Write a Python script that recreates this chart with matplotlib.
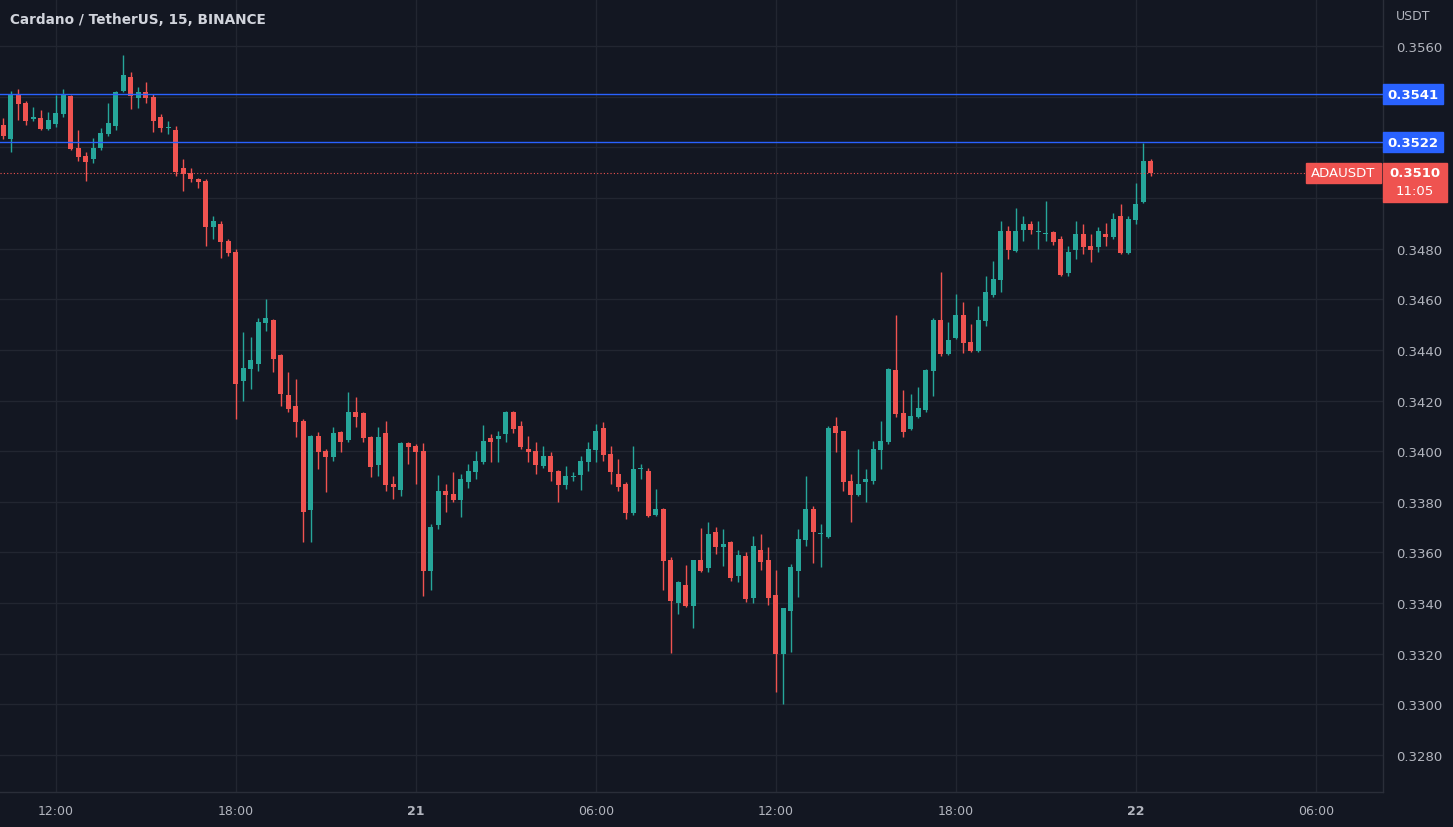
import matplotlib
matplotlib.use("Agg")
import matplotlib.pyplot as plt
from matplotlib.patches import Rectangle
from matplotlib.transforms import blended_transform_factory
import numpy as np

# ADAUSDT 15m candles, 20 Mar 10:15 -> 22 Mar 00:30
opens = [0.35290, 0.35233, 0.35408, 0.35375, 0.35314, 0.35316, 0.35272, 0.35292, 0.35331, 0.35401,
         0.35197, 0.35164, 0.35154, 0.35196, 0.35252, 0.35285, 0.35421, 0.35479, 0.35395, 0.35417,
         0.35400, 0.35318, 0.35275, 0.35270, 0.35117, 0.35098, 0.35077, 0.35068, 0.34884, 0.34897,
         0.34831, 0.34788, 0.34278, 0.34324, 0.34344, 0.34506, 0.34518, 0.34380, 0.34222, 0.34180,
         0.34120, 0.33767, 0.34061, 0.34002, 0.33976, 0.34074, 0.34045, 0.34153, 0.34150, 0.34058,
         0.33945, 0.34071, 0.33870, 0.33847, 0.34031, 0.34022, 0.34002, 0.33525, 0.33708, 0.33841,
         0.33831, 0.33808, 0.33879, 0.33919, 0.33956, 0.34054, 0.34048, 0.34068, 0.34153, 0.34100,
         0.34008, 0.34002, 0.33940, 0.33982, 0.33923, 0.33866, 0.33900, 0.33906, 0.33959, 0.34006,
         0.34090, 0.33989, 0.33910, 0.33870, 0.33756, 0.33930, 0.33923, 0.33748, 0.33771, 0.33571,
         0.33399, 0.33471, 0.33390, 0.33570, 0.33537, 0.33680, 0.33620, 0.33642, 0.33508, 0.33585,
         0.33419, 0.33611, 0.33570, 0.33432, 0.33201, 0.33370, 0.33528, 0.33650, 0.33771, 0.33672,
         0.33660, 0.34098, 0.34078, 0.33883, 0.33827, 0.33880, 0.33883, 0.34006, 0.34035, 0.34320,
         0.34151, 0.34087, 0.34134, 0.34164, 0.34318, 0.34519, 0.34384, 0.34446, 0.34538, 0.34430,
         0.34397, 0.34515, 0.34617, 0.34677, 0.34871, 0.34792, 0.34874, 0.34897, 0.34867, 0.34858,
         0.34867, 0.34838, 0.34703, 0.34796, 0.34858, 0.34811, 0.34805, 0.34858, 0.34845, 0.34927,
         0.34782, 0.34914, 0.34985, 0.35147]
highs = [0.35316, 0.35423, 0.35430, 0.35384, 0.35359, 0.35347, 0.35338, 0.35408, 0.35430, 0.35408,
         0.35268, 0.35180, 0.35237, 0.35276, 0.35374, 0.35423, 0.35564, 0.35496, 0.35439, 0.35459,
         0.35410, 0.35331, 0.35305, 0.35285, 0.35156, 0.35117, 0.35081, 0.35075, 0.34930, 0.34910,
         0.34838, 0.34798, 0.34469, 0.34450, 0.34528, 0.34601, 0.34522, 0.34384, 0.34311, 0.34285,
         0.34127, 0.34065, 0.34074, 0.34008, 0.34094, 0.34080, 0.34232, 0.34213, 0.34153, 0.34061,
         0.34094, 0.34120, 0.33903, 0.34037, 0.34037, 0.34028, 0.34031, 0.33712, 0.33906, 0.33870,
         0.33919, 0.33910, 0.33949, 0.34002, 0.34103, 0.34068, 0.34080, 0.34160, 0.34160, 0.34120,
         0.34061, 0.34035, 0.34022, 0.33998, 0.33927, 0.33942, 0.33919, 0.33980, 0.34035, 0.34107,
         0.34116, 0.34019, 0.33969, 0.33877, 0.34019, 0.33950, 0.33932, 0.33850, 0.33774, 0.33581,
         0.33488, 0.33550, 0.33572, 0.33695, 0.33721, 0.33699, 0.33692, 0.33646, 0.33611, 0.33600,
         0.33664, 0.33673, 0.33620, 0.33532, 0.33380, 0.33554, 0.33692, 0.33903, 0.33782, 0.33712,
         0.34098, 0.34134, 0.34080, 0.33910, 0.34008, 0.33930, 0.34041, 0.34120, 0.34330, 0.34538,
         0.34243, 0.34226, 0.34252, 0.34324, 0.34528, 0.34709, 0.34511, 0.34620, 0.34590, 0.34502,
         0.34572, 0.34690, 0.34752, 0.34910, 0.34890, 0.34959, 0.34930, 0.34910, 0.34910, 0.34989,
         0.34871, 0.34848, 0.34809, 0.34910, 0.34897, 0.34858, 0.34884, 0.34901, 0.34941, 0.34976,
         0.34927, 0.35059, 0.35217, 0.35156]
lows = [0.35233, 0.35180, 0.35308, 0.35288, 0.35305, 0.35268, 0.35268, 0.35281, 0.35318, 0.35189,
        0.35147, 0.35068, 0.35137, 0.35189, 0.35246, 0.35268, 0.35417, 0.35351, 0.35355, 0.35375,
        0.35259, 0.35259, 0.35252, 0.35088, 0.35029, 0.35062, 0.35038, 0.34811, 0.34838, 0.34765,
        0.34770, 0.34127, 0.34199, 0.34245, 0.34318, 0.34476, 0.34311, 0.34180, 0.34153, 0.34055,
        0.33640, 0.33640, 0.33929, 0.33837, 0.33962, 0.33998, 0.34035, 0.34094, 0.34035, 0.33897,
        0.33903, 0.33844, 0.33810, 0.33824, 0.33949, 0.33870, 0.33429, 0.33450, 0.33692, 0.33758,
        0.33798, 0.33739, 0.33853, 0.33890, 0.33949, 0.33959, 0.33959, 0.34037, 0.34072, 0.34008,
        0.33959, 0.33910, 0.33932, 0.33883, 0.33798, 0.33850, 0.33883, 0.33847, 0.33923, 0.33956,
        0.33962, 0.33870, 0.33844, 0.33732, 0.33748, 0.33890, 0.33739, 0.33743, 0.33453, 0.33203,
        0.33357, 0.33383, 0.33300, 0.33521, 0.33524, 0.33594, 0.33545, 0.33488, 0.33484, 0.33405,
        0.33400, 0.33532, 0.33392, 0.33050, 0.33001, 0.33208, 0.33423, 0.33626, 0.33560, 0.33544,
        0.33656, 0.33998, 0.33844, 0.33719, 0.33822, 0.33798, 0.33870, 0.33930, 0.34030, 0.34134,
        0.34055, 0.34085, 0.34130, 0.34153, 0.34219, 0.34377, 0.34380, 0.34443, 0.34388, 0.34393,
        0.34393, 0.34493, 0.34608, 0.34627, 0.34759, 0.34785, 0.34831, 0.34858, 0.34798, 0.34831,
        0.34814, 0.34693, 0.34693, 0.34759, 0.34779, 0.34746, 0.34785, 0.34811, 0.34838, 0.34779,
        0.34779, 0.34897, 0.34980, 0.35085]
closes = [0.35246, 0.35410, 0.35371, 0.35303, 0.35316, 0.35272, 0.35308, 0.35334, 0.35408, 0.35193,
          0.35163, 0.35143, 0.35196, 0.35256, 0.35296, 0.35420, 0.35485, 0.35404, 0.35417, 0.35395,
          0.35303, 0.35275, 0.35278, 0.35104, 0.35094, 0.35075, 0.35064, 0.34884, 0.34910, 0.34827,
          0.34782, 0.34265, 0.34327, 0.34360, 0.34509, 0.34528, 0.34364, 0.34226, 0.34166, 0.34116,
          0.33758, 0.34061, 0.33998, 0.33976, 0.34071, 0.34037, 0.34153, 0.34134, 0.34054, 0.33936,
          0.34058, 0.33866, 0.33857, 0.34031, 0.34017, 0.33998, 0.33528, 0.33702, 0.33844, 0.33827,
          0.33808, 0.33890, 0.33923, 0.33962, 0.34041, 0.34037, 0.34061, 0.34153, 0.34087, 0.34015,
          0.33995, 0.33945, 0.33980, 0.33919, 0.33866, 0.33903, 0.33902, 0.33962, 0.34008, 0.34080,
          0.33985, 0.33916, 0.33857, 0.33756, 0.33930, 0.33932, 0.33745, 0.33771, 0.33567, 0.33410,
          0.33484, 0.33390, 0.33570, 0.33528, 0.33673, 0.33620, 0.33633, 0.33498, 0.33590, 0.33416,
          0.33624, 0.33561, 0.33419, 0.33201, 0.33379, 0.33544, 0.33653, 0.33771, 0.33680, 0.33675,
          0.34090, 0.34072, 0.33879, 0.33827, 0.33870, 0.33890, 0.34008, 0.34041, 0.34324, 0.34147,
          0.34077, 0.34138, 0.34169, 0.34320, 0.34519, 0.34384, 0.34440, 0.34538, 0.34427, 0.34397,
          0.34519, 0.34630, 0.34680, 0.34871, 0.34796, 0.34871, 0.34897, 0.34874, 0.34870, 0.34860,
          0.34827, 0.34697, 0.34785, 0.34858, 0.34805, 0.34796, 0.34871, 0.34845, 0.34917, 0.34782,
          0.34917, 0.34976, 0.35147, 0.35100]

# time axis labels (candle index -> label)
tick_idx = [7, 31, 55, 79, 103, 127, 151, 175]
tick_lbl = ["12:00", "18:00", "21", "06:00", "12:00", "18:00", "22", "06:00"]
price_ticks = [0.3280, 0.3300, 0.3320, 0.3340, 0.3360, 0.3380, 0.3400,
               0.3420, 0.3440, 0.3460, 0.3480, 0.3500, 0.3520, 0.3540, 0.3560]
hlines = [0.3541, 0.3522]
last_price = 0.3510

BG = "#131722"
UP = "#26a69a"
DN = "#ef5350"
TXT = "#b2b5be"
BLUE = "#2962ff"

fig = plt.figure(figsize=(14.53, 8.28), dpi=100, facecolor=BG)
ax = fig.add_axes([0, 1 - 793 / 828, 1383 / 1453, 793 / 828])
ax.set_facecolor(BG)

o = np.array(opens)
h = np.array(highs)
l = np.array(lows)
c = np.array(closes)
x = np.arange(len(o))
cols = np.where(c >= o, UP, DN)

ax.vlines(x, l, h, colors=cols, linewidth=1.0, zorder=3)
body = np.maximum(np.abs(c - o), 0.00004)
ax.bar(x, body, bottom=np.minimum(o, c), width=0.68, color=cols, linewidth=0, zorder=4)

for p in hlines:
    ax.axhline(p, color=BLUE, lw=1.0, zorder=5)
ax.axhline(last_price, color=DN, lw=0.8, ls=(0, (1, 2)), zorder=5)

ax.set_xlim(-0.44, 183.96)
ax.set_ylim(0.32654, 0.35786)

# labels hidden behind the price boxes are left blank
covered = [0.3500, 0.3520, 0.3540]
ax.set_yticks(price_ticks)
ax.set_yticklabels(["" if v in covered else f"{v:.4f}" for v in price_ticks])
ax.yaxis.tick_right()
ax.tick_params(axis="y", length=0, pad=9.5, labelsize=9.5, labelcolor=TXT)
ax.set_xticks(tick_idx)
ax.set_xticklabels(tick_lbl)
ax.tick_params(axis="x", length=0, pad=9, labelsize=9, labelcolor=TXT)
for t in ax.get_xticklabels():
    if t.get_text() in ("21", "22"):
        t.set_fontweight("bold")

ax.grid(True, color="#222631", lw=1.0, zorder=0)
for s in ("left", "top"):
    ax.spines[s].set_visible(False)
for s in ("right", "bottom"):
    ax.spines[s].set_color("#2a2e39")
    ax.spines[s].set_linewidth(1.0)

# price-axis labels
tr = blended_transform_factory(ax.transAxes, ax.transData)
px = 1 / 25321.0
for p in hlines:
    ax.add_patch(Rectangle((1.0, p - 10 * px), 60 / 1383, 20 * px, transform=tr,
                           color=BLUE, clip_on=False, zorder=10))
    ax.text(1.0 + 30 / 1383, p, f"{p:.4f}", transform=tr, color="white", fontsize=9.5,
            fontweight="bold", ha="center", va="center", zorder=11, clip_on=False)

ax.add_patch(Rectangle((1.0, last_price - 29 * px), 64 / 1383, 39 * px, transform=tr,
                       color=DN, clip_on=False, zorder=10))
ax.text(1.0 + 32 / 1383, last_price, f"{last_price:.4f}", transform=tr, color="white",
        fontsize=9.5, fontweight="bold", ha="center", va="center", zorder=11, clip_on=False)
ax.text(1.0 + 32 / 1383, last_price - 18 * px, "11:05", transform=tr, color="white",
        fontsize=9.5, ha="center", va="center", zorder=11, clip_on=False)
ax.add_patch(Rectangle((1306 / 1383, last_price - 10 * px), 75 / 1383, 20 * px, transform=tr,
                       color=DN, clip_on=False, zorder=10))
ax.text(1343.5 / 1383, last_price, "ADAUSDT", transform=tr, color="white", fontsize=9.5,
        ha="center", va="center", zorder=11, clip_on=False)

fig.text(1396 / 1453, 1 - 16 / 828, "USDT", color=TXT, fontsize=9, va="center", ha="left")
fig.text(10 / 1453, 1 - 20 / 828, "Cardano / TetherUS, 15, BINANCE", color="#d1d4dc",
         fontsize=9.8, fontweight="bold", va="center", ha="left")

fig.savefig("out.png", dpi=100, facecolor=BG)
